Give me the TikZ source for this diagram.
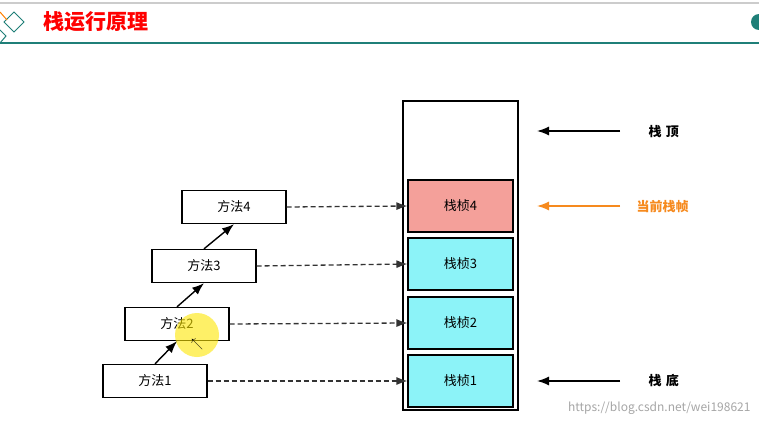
\documentclass[tikz,border=0pt]{standalone}
\usepackage{fontspec}
\setmainfont{Noto Sans CJK SC}
\usetikzlibrary{arrows.meta}
\definecolor{teal1}{HTML}{1F7F78}
\definecolor{fr}{HTML}{F4A09A}
\definecolor{cy}{HTML}{8CF3F8}
\definecolor{org}{HTML}{F68A1E}
\begin{document}
\begin{tikzpicture}[x=1pt,y=-1pt,
 box/.style={draw,line width=1.3pt,minimum width=104pt,minimum height=33pt,font=\fontsize{13}{15}\selectfont,inner sep=0},
 frame/.style={draw,line width=1.1pt,minimum width=105pt,minimum height=52pt,font=\fontsize{13}{15}\selectfont,inner sep=0},
 dasharr/.style={dash pattern=on 5pt off 3pt,line width=1.3pt,-{Latex[length=11pt,width=8pt]},draw=black!80},
 arr/.style={line width=1.4pt,-{Latex[length=12pt,width=9pt]}},
 lab/.style={font=\fontsize{13}{15}\selectfont\bfseries,anchor=west}]
\useasboundingbox (0,0) rectangle (759,425);
\fill[white] (0,0) rectangle (759,425);
% header
\draw[gray!40,line width=1.5pt] (0,3) -- (759,3);
\draw[teal1,line width=2.5pt] (0,43) -- (759,43);
\draw[teal1,line width=1pt] (14,12) -- (24,22) -- (14,32) -- (4,22) -- cycle;
\draw[orange,line width=1pt] (0,12) -- (7,20);
\draw[teal1,line width=1pt] (0,30) -- (6,36) -- (0,43);
\fill[teal1] (759,22) circle (8);
\node[anchor=west,text=red,font=\fontsize{21}{24}\selectfont\bfseries] (title) at (40,22) {栈运行原理};
% stack
\draw[line width=1.3pt] (403,101) rectangle (518,410);
\node[frame,fill=fr] (f4) at (460.5,206) {栈桢4};
\node[frame,fill=cy] (f3) at (460.5,264) {栈桢3};
\node[frame,fill=cy] (f2) at (460.5,323) {栈桢2};
\node[frame,fill=cy] (f1) at (460.5,381) {栈桢1};
% methods
\node[box] (m4) at (234,207) {方法4};
\node[box] (m3) at (204,266) {方法3};
\node[box] (m2) at (177,324) {方法2};
\node[box] (m1) at (155,381) {方法1};
\fill[yellow!90!orange,opacity=0.6] (197,335) circle (22);
\node[font=\large] (cursor) at (197,344) {$\nwarrow$};
\draw[dasharr] (m4.east) -- (f4.west);
\draw[dasharr] (m3.east) -- (f3.west);
\draw[dasharr] (m2.east) -- (f2.west);
\draw[dasharr] (m1.east) -- (f1.west);
\draw[arr] (m1.north) -- (m2.south);
\draw[arr] (m2.north) -- (m3.south);
\draw[arr] (m3.north) -- (m4.south);
% right labels
\coordinate (t0) at (620,131); \coordinate (t1) at (537,131);
\draw[arr] (t0) -- (t1);
\node[lab] (top) at (645,132) {栈\,\,顶};
\coordinate (c0) at (620,206); \coordinate (c1) at (537,206);
\draw[arr,org] (c0) -- (c1);
\node[lab,text=org] (cur) at (633,207) {当前栈帧};
\coordinate (b0) at (620,381); \coordinate (b1) at (537,381);
\draw[arr] (b0) -- (b1);
\node[lab] (bot) at (645,381) {栈\,\,底};
\node[anchor=east,text=gray!70,font=\fontsize{12}{14}\selectfont] (wm) at (754,408) {https://blog.csdn.net/wei198621};
\end{tikzpicture}
\end{document}
